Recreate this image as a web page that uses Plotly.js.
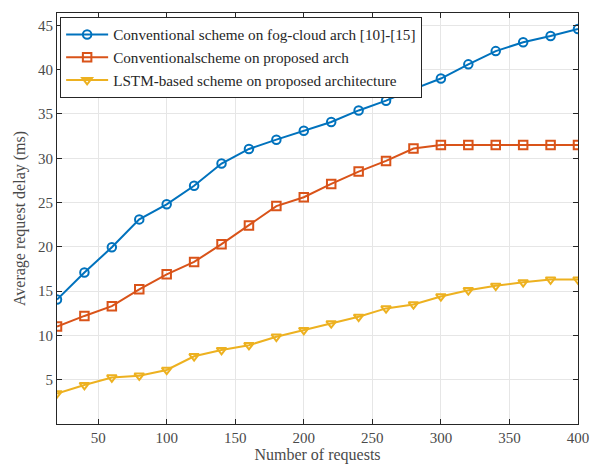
<!DOCTYPE html>
<html>
<head>
<meta charset="utf-8">
<script src="https://cdn.plot.ly/plotly-3.0.1.min.js"></script>
<style>html,body{margin:0;padding:0;background:#fff;}#chart{width:594px;height:474px;}</style>
</head>
<body>
<div id="chart"></div>
<script>
const requests = [20,40,60,80,100,120,140,160,180,200,220,240,260,280,300,320,340,360,380,400];
const fogCloud = [14.05,17.1,19.95,23.1,24.8,26.9,29.4,31.05,32.1,33.1,34.1,35.4,36.5,37.8,39.0,40.6,42.1,43.1,43.8,44.6];
const proposedConv = [11.0,12.2,13.3,15.2,16.9,18.3,20.3,22.4,24.6,25.6,27.1,28.5,29.7,31.1,31.5,31.5,31.5,31.5,31.5,31.5];
const lstm = [3.45,4.4,5.25,5.45,6.1,7.65,8.35,8.9,9.85,10.6,11.35,12.1,13.05,13.5,14.4,15.1,15.6,16.0,16.3,16.3];
const seriesNames = ['Conventional scheme on fog-cloud arch [10]-[15]','Conventionalscheme on proposed arch','LSTM-based scheme on proposed architecture'];
const xTicks = [50,100,150,200,250,300,350,400];
const yTicks = [5,10,15,20,25,30,35,40,45];

const colors = ['#0072BD','#D95319','#EDB120'];
const symbols = ['circle-open','square-open','triangle-down-open'];
const ys = [fogCloud, proposedConv, lstm];
const traces = ys.map((y,i)=>({
  x: requests, y: y, name: seriesNames[i], type:'scatter', mode:'lines+markers',
  line:{color:colors[i], width:2},
  marker:{symbol:symbols[i], size:8.5, color:colors[i], line:{width:2, color:colors[i]}}
}));

const fam = 'Liberation Serif, Times New Roman, serif';
const layout = {
  width:594, height:474,
  margin:{l:57, r:16, t:13, b:50},
  paper_bgcolor:'#fff', plot_bgcolor:'#fff',
  font:{family:fam, color:'#404040'},
  showlegend:true,
  legend:{x:0.006, y:0.99, xanchor:'left', yanchor:'top', bgcolor:'#fff', bordercolor:'#262626', borderwidth:1,
    font:{family:fam, size:15.2, color:'#262626'}, tracegroupgap:0, itemwidth:42},
  xaxis:{range:[20,400], tickvals:xTicks, ticks:'inside', ticklen:5, tickcolor:'#262626', mirror:'ticks',
    showline:true, linecolor:'#262626', linewidth:1, showgrid:true, gridcolor:'#e6e6e6', zeroline:false,
    tickfont:{family:fam, size:15, color:'#4a4a4a'},
    title:{text:'Number of requests', font:{family:fam, size:16, color:'#4a4a4a'}, standoff:3}},
  yaxis:{range:[0,46.4], tickvals:yTicks, ticks:'inside', ticklen:5, tickcolor:'#262626', mirror:'ticks',
    showline:true, linecolor:'#262626', linewidth:1, showgrid:true, gridcolor:'#e6e6e6', zeroline:false,
    tickfont:{family:fam, size:15, color:'#4a4a4a'},
    title:{text:'Average request delay (ms)', font:{family:fam, size:16, color:'#4a4a4a'}, standoff:8}}
};
Plotly.newPlot('chart', traces, layout, {displayModeBar:false, staticPlot:true});
</script>
</body>
</html>
